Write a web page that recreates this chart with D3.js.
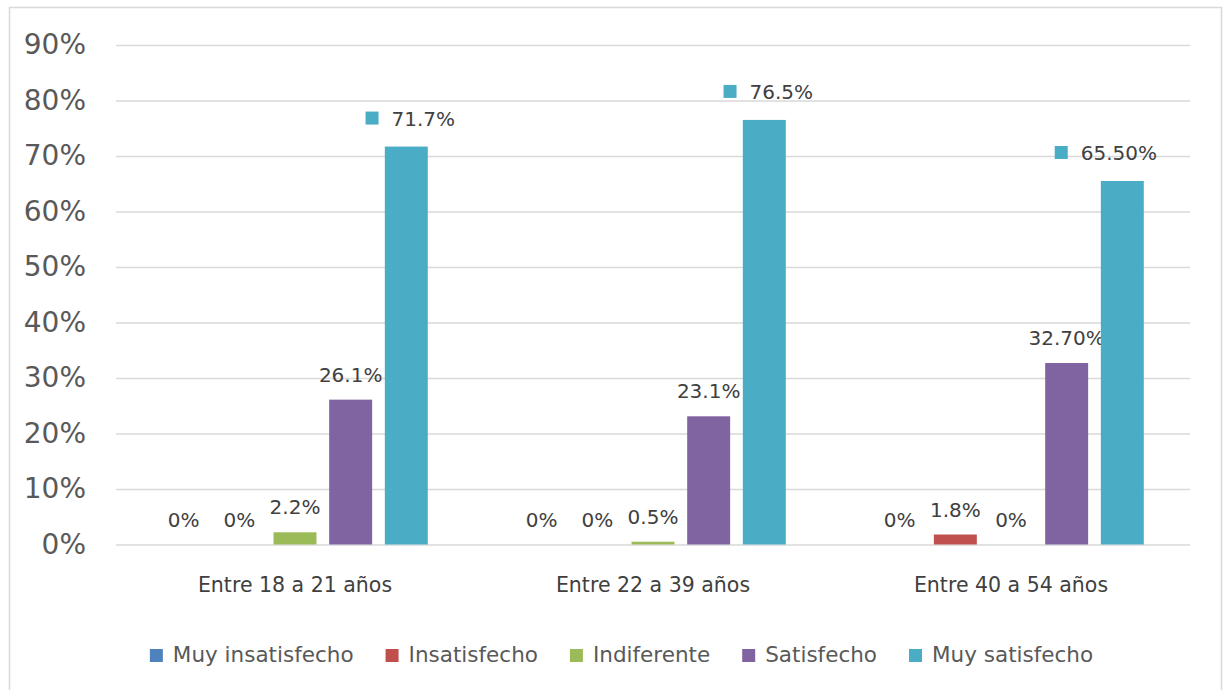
<!DOCTYPE html>
<html>
<head>
<meta charset="utf-8">
<script src="https://cdn.jsdelivr.net/npm/d3@7"></script>
<style>
  body { margin: 0; background: #fff; }
  text { font-family: 'DejaVu Sans', sans-serif; }
</style>
</head>
<body>
<svg id="chart" width="1227" height="690"></svg>
<script>
// data
const groups = ['Entre 18 a 21 años', 'Entre 22 a 39 años', 'Entre 40 a 54 años'];
const seriesNames = ['Muy insatisfecho', 'Insatisfecho', 'Indiferente', 'Satisfecho', 'Muy satisfecho'];
const muyInsatisfecho = [0, 0, 0];
const insatisfecho = [0, 0, 1.8];
const indiferente = [2.2, 0.5, 0];
const satisfecho = [26.1, 23.1, 32.7];
const muySatisfecho = [71.7, 76.5, 65.5];
const muyInsatisfechoLabels = ['0%', '0%', '0%'];
const insatisfechoLabels = ['0%', '0%', '1.8%'];
const indiferenteLabels = ['2.2%', '0.5%', '0%'];
const satisfechoLabels = ['26.1%', '23.1%', '32.70%'];
const muySatisfechoLabels = ['71.7%', '76.5%', '65.50%'];
const yTicks = [0, 10, 20, 30, 40, 50, 60, 70, 80, 90];

const colors = ['#4F81BD', '#C0504D', '#9BBB59', '#8064A2', '#4BACC6'];
const values = [muyInsatisfecho, insatisfecho, indiferente, satisfecho, muySatisfecho];
const labels = [muyInsatisfechoLabels, insatisfechoLabels, indiferenteLabels, satisfechoLabels, muySatisfechoLabels];

const svg = d3.select('#chart');

// chart frame (bottom edge runs off the picture)
svg.append('rect')
    .attr('x', 9.5).attr('y', 7.5)
    .attr('width', 1212).attr('height', 690)
    .attr('fill', '#fff')
    .attr('stroke', '#d9d9d9')
    .attr('stroke-width', 1.5);

const plotLeft = 116, plotRight = 1190;
const x0 = d3.scaleBand().domain(groups).range([plotLeft, plotRight]);
const x1 = d3.scaleBand().domain(d3.range(seriesNames.length))
    .range([0, x0.bandwidth()])
    .paddingInner(0.228)
    .paddingOuter(0.83);
const y = d3.scaleLinear().domain([0, 90]).range([544.5, 45]);

// gridlines
svg.append('g')
    .attr('transform', `translate(${plotLeft},0)`)
    .call(d3.axisLeft(y).tickValues(yTicks).tickSize(-(plotRight - plotLeft)).tickFormat(''))
    .call(g => g.select('.domain').remove())
    .call(g => g.selectAll('line').attr('stroke', '#d9d9d9').attr('stroke-width', 1.5));

// y labels
svg.append('g')
    .attr('transform', 'translate(86,0)')
    .call(d3.axisLeft(y).tickValues(yTicks).tickSize(0).tickPadding(0).tickFormat(d => d + '%'))
    .call(g => g.select('.domain').remove())
    .call(g => g.selectAll('text')
        .attr('fill', '#595959')
        .style('font-size', '28px')
        .style('font-family', "'DejaVu Sans', sans-serif"));

// category labels
svg.append('g')
    .attr('transform', 'translate(0,544.5)')
    .call(d3.axisBottom(x0).tickSize(0).tickPadding(0))
    .call(g => g.select('.domain').remove())
    .call(g => g.selectAll('text')
        .attr('y', 47).attr('dy', 0)
        .attr('fill', '#404040')
        .style('font-size', '20.5px')
        .style('font-family', "'DejaVu Sans', sans-serif"));

const groupG = svg.selectAll('.grp')
    .data(groups)
    .enter().append('g')
    .attr('transform', d => `translate(${x0(d)},0)`);

groupG.each(function (grp, gi) {
  const g = d3.select(this);
  const gx = x0(grp);
  seriesNames.forEach((s, si) => {
    const v = values[si][gi];
    const cx = x1(si) + x1.bandwidth() / 2;
    g.append('rect')
        .attr('x', x1(si))
        .attr('y', y(v))
        .attr('width', x1.bandwidth())
        .attr('height', y(0) - y(v))
        .attr('fill', colors[si]);

    if (si === seriesNames.length - 1) {
      // label with legend key
      const lg = g.append('g');
      const t = lg.append('text')
          .attr('y', y(v) - 21)
          .attr('fill', '#404040')
          .style('font-size', '20px')
          .text(labels[si][gi]);
      const tw = t.node().getComputedTextLength();
      const total = 13 + 13 + tw;
      let left = cx + 4 - total / 2;
      // keep the label clear of the plot's right edge
      left = Math.min(left, plotRight - 33 - gx - total);
      t.attr('x', left + 26);
      lg.append('rect')
          .attr('x', left).attr('y', y(v) - 35)
          .attr('width', 13).attr('height', 13)
          .attr('fill', colors[si]);
    } else {
      g.append('text')
          .attr('x', cx)
          .attr('y', y(v) - 18)
          .attr('text-anchor', 'middle')
          .attr('fill', '#404040')
          .style('font-size', '20px')
          .text(labels[si][gi]);
    }
  });
});

// legend
const legend = svg.append('g');
let lx = 0;
seriesNames.forEach((s, i) => {
  const item = legend.append('g').attr('transform', `translate(${lx},0)`);
  item.append('rect')
      .attr('x', 0).attr('y', -6.5)
      .attr('width', 13).attr('height', 13)
      .attr('fill', colors[i]);
  const t = item.append('text')
      .attr('x', 23).attr('y', 6.5)
      .attr('fill', '#595959')
      .style('font-size', '21.5px')
      .text(s);
  lx += 23 + t.node().getComputedTextLength() + 32;
});
const legendW = lx - 32;
legend.attr('transform', `translate(${621.5 - legendW / 2},655.5)`);
</script>
</body>
</html>
